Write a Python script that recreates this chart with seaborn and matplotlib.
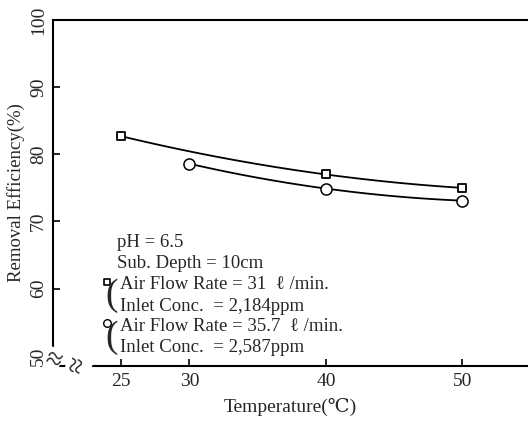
import numpy as np
import pandas as pd
import matplotlib
matplotlib.use("Agg")
import matplotlib.pyplot as plt
import seaborn as sns

# ---- data ----
temp_sq = [25, 40, 50]
eff_sq = [82.7, 77.0, 75.0]
temp_ci = [30, 40, 50]
eff_ci = [78.6, 74.9, 73.1]
x_ticks = [25, 30, 40, 50]
y_ticks = [50, 60, 70, 80, 90, 100]

sns.set_style("ticks")
plt.rcParams['font.family'] = ['Liberation Serif', 'DejaVu Serif']

fig = plt.figure(figsize=(5.28, 4.43), dpi=100)
ax = fig.add_axes([0.100, 0.174, 0.900, 0.781])

df_sq = pd.DataFrame({"T": temp_sq, "E": eff_sq})
df_ci = pd.DataFrame({"T": temp_ci, "E": eff_ci})

line_kws = dict(color="black", lw=1.3, zorder=2)
sns.regplot(data=df_sq, x="T", y="E", order=2, ci=None, scatter=False,
            line_kws=line_kws, ax=ax)
sns.regplot(data=df_ci, x="T", y="E", order=2, ci=None, scatter=False,
            line_kws=line_kws, ax=ax)
sns.scatterplot(data=df_sq, x="T", y="E", marker="s", s=36, color="white",
                edgecolor="black", linewidth=1.3, zorder=3, ax=ax)
sns.scatterplot(data=df_ci, x="T", y="E", marker="o", s=64, color="white",
                edgecolor="black", linewidth=1.1, zorder=3, ax=ax)

ax.set_xlim(20, 54.8)
ax.set_ylim(48.5, 100)
ax.set_xticks(x_ticks)
ax.set_yticks(y_ticks)
ax.set_xticklabels([str(v) for v in x_ticks], fontsize=14)
ax.set_yticklabels([str(v) for v in y_ticks], fontsize=14, rotation=90,
                   va="center")
ax.tick_params(direction="in", length=5, width=1.2, color="black", pad=5)
ax.tick_params(axis="y", pad=4)
ax.set_xlabel("Temperature(℃)", fontsize=14, labelpad=6)
ax.set_ylabel("Removal Efficiency(%)", fontsize=13.5)
ax.yaxis.set_label_coords(-0.058, 0.5)

for s in ["left", "top", "bottom"]:
    ax.spines[s].set_linewidth(1.5)
    ax.spines[s].set_color("black")
ax.spines["right"].set_visible(False)

# annotations
fs = 13.5
dy = -0.7
ax.text(24.7, 67.6 + dy, "pH = 6.5", fontsize=fs, va="center", ha="left")
ax.text(24.7, 64.4 + dy, "Sub. Depth = 10cm", fontsize=fs, va="center", ha="left")
ax.scatter([24.0], [61.7 + dy], marker="s", s=22, facecolor="white",
           edgecolor="black", linewidth=1.2, zorder=3)
ax.text(24.3, 59.6 + dy, "(", fontsize=27, va="center", ha="center")
ax.text(24.9, 61.3 + dy, "Air Flow Rate = 31  ℓ /min.", fontsize=fs,
        va="center", ha="left")
ax.text(24.9, 58.1 + dy, "Inlet Conc.  = 2,184ppm", fontsize=fs,
        va="center", ha="left")
ax.scatter([24.0], [55.6 + dy], marker="o", s=30, facecolor="white",
           edgecolor="black", linewidth=1.0, zorder=3)
ax.text(24.3, 53.4 + dy, "(", fontsize=27, va="center", ha="center")
ax.text(24.9, 55.0 + dy, "Air Flow Rate = 35.7  ℓ /min.", fontsize=fs,
        va="center", ha="left")
ax.text(24.9, 51.9 + dy, "Inlet Conc.  = 2,587ppm", fontsize=fs,
        va="center", ha="left")

# axis break marks
ax.text(20.0, 49.3, "≈", fontsize=21, rotation=-20, ha="center", va="center",
        clip_on=False, zorder=5,
        bbox=dict(facecolor="white", edgecolor="none", pad=0))
ax.text(21.9, 48.5, "≈", fontsize=21, rotation=75, ha="center", va="center",
        clip_on=False, zorder=5,
        bbox=dict(facecolor="white", edgecolor="none", pad=0))

fig.savefig("out.png", dpi=100)
